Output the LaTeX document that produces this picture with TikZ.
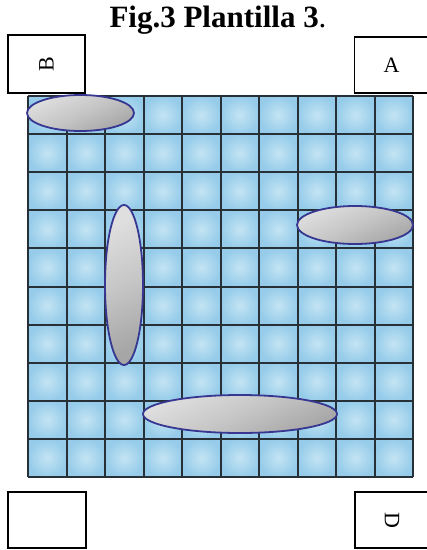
\documentclass[tikz,border=0pt]{standalone}
\usepackage{fontspec}
\setmainfont{Liberation Serif}
\usetikzlibrary{shapes.geometric}
\definecolor{cellin}{RGB}{196,228,243}
\definecolor{cellout}{RGB}{150,204,234}
\definecolor{gridline}{RGB}{38,48,54}
\definecolor{rimblue}{RGB}{55,55,145}
\tikzset{
  labelbox/.style={draw=black,line width=1.4pt,fill=white,inner sep=0pt,font=\fontsize{22}{22}\selectfont},
  pebble/.style={ellipse,draw=rimblue,line width=1.8pt,inner sep=0pt,
     top color=gray!25,bottom color=gray!70,middle color=gray!45,shading angle=25},
  cell/.style={inner color=cellin,outer color=cellout}
}
\begin{document}
\begin{tikzpicture}[x=1pt,y=-1pt]
\useasboundingbox (0,0) rectangle (427,550);
\fill[white] (0,0) rectangle (427,550);
% cells
\foreach \i in {0,...,9}{
  \foreach \j in {0,...,9}{
    \shade[cell] ({28+38.5*\i},{96+38.1*\j}) rectangle ({28+38.5*(\i+1)},{96+38.1*(\j+1)});
  }
}
% grid lines
\foreach \i in {0,...,10}{
  \draw[gridline,line width=2pt] ({28+38.5*\i},96) -- ({28+38.5*\i},477);
  \draw[gridline,line width=2pt] (28,{96+38.1*\i}) -- (413,{96+38.1*\i});
}
% pebbles
\node[pebble,minimum width=107pt,minimum height=36pt] (p1) at (80.5,113) {};
\node[pebble,minimum width=116pt,minimum height=38pt] (p2) at (355,225) {};
\node[pebble,minimum width=38pt,minimum height=160pt] (p3) at (124,285) {};
\node[pebble,minimum width=194pt,minimum height=38pt] (p4) at (240,414) {};
% label boxes
\node[labelbox,minimum width=77pt,minimum height=58pt] (bB) at (46.5,64) {\rotatebox{90}{B}};
\node[labelbox,minimum width=74pt,minimum height=56pt] (bA) at (391.5,65) {A};
\node[labelbox,minimum width=78pt,minimum height=56pt] (bE) at (47,520) {};
\node[labelbox,minimum width=74pt,minimum height=56pt] (bD) at (392,520) {\rotatebox{-90}{D}};
% title
\node[font=\fontsize{31}{31}\selectfont\bfseries] (title) at (218,20) {Fig.3 Plantilla 3{\mdseries.}};
\end{tikzpicture}
\end{document}
